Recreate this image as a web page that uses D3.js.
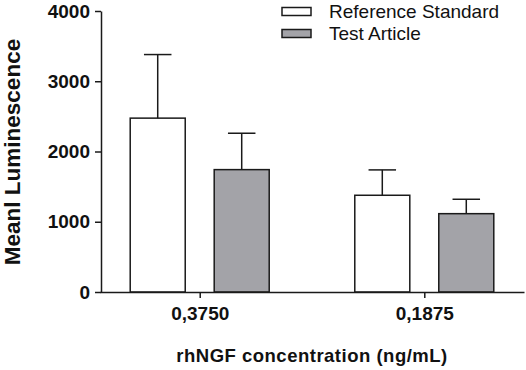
<!DOCTYPE html>
<html>
<head>
    <meta charset="UTF-8">
    <title></title>
    <style>
        body { margin: 0; background: #fff; }
        svg { font-family: "Liberation Sans", Arial, sans-serif; }
        .axis path, .axis line { stroke: #1a1a1a; stroke-width: 1.5; }
        .axis text { font-size: 19px; font-weight: bold; fill: #111; }
    </style>
</head>
<body>
<svg id="chart" width="526" height="370"></svg>
<script src="https://cdn.jsdelivr.net/npm/d3@7"></script>
<script>
    let categories = ["0,3750", "0,1875"];
    let series = ["Reference Standard", "Test Article"];
    let refMean = [2475, 1377];
    let refErr = [905, 361];
    let testMean = [1742, 1115];
    let testErr = [518, 205];
    let yTicks = [0, 1000, 2000, 3000, 4000];
    let colors = ["#ffffff", "#a3a3a8"];

    let rows = [];
    categories.forEach((c, i) => {
        rows.push({cat: c, s: series[0], mean: refMean[i], err: refErr[i]});
        rows.push({cat: c, s: series[1], mean: testMean[i], err: testErr[i]});
    });

    let svg = d3.select('#chart');

    let x = d3.scalePoint().domain(categories).range([100, 524]).padding(0.444);
    let x1 = d3.scaleBand().domain(series).range([-69.5, 69.5]).paddingInner(0.345);
    let y = d3.scaleLinear().domain([0, 4000]).range([292, 11]);
    let color = d3.scaleOrdinal().domain(series).range(colors);

    // bars
    svg.append("g").selectAll("rect")
        .data(rows)
        .enter().append("rect")
        .attr("x", d => x(d.cat) + x1(d.s))
        .attr("y", d => y(d.mean))
        .attr("width", x1.bandwidth())
        .attr("height", d => y(0) - y(d.mean))
        .attr("fill", d => color(d.s))
        .attr("stroke", "#1a1a1a")
        .attr("stroke-width", 1.5);

    // error bars (upper only)
    let capW = x1.bandwidth() / 2;
    let eb = svg.append("g").attr("stroke", "#1a1a1a").attr("stroke-width", 1.5);
    rows.forEach(d => {
        let cx = x(d.cat) + x1(d.s) + x1.bandwidth() / 2;
        eb.append("line")
            .attr("x1", cx).attr("x2", cx)
            .attr("y1", y(d.mean)).attr("y2", y(d.mean + d.err));
        eb.append("line")
            .attr("x1", cx - capW / 2).attr("x2", cx + capW / 2)
            .attr("y1", y(d.mean + d.err)).attr("y2", y(d.mean + d.err));
    });

    // axes
    svg.append("g")
        .attr("class", "axis")
        .attr("transform", "translate(101,0)")
        .call(d3.axisLeft(y).tickValues(yTicks).tickFormat(d3.format("d")).tickSize(6).tickSizeOuter(0).tickPadding(5));

    svg.append("g")
        .attr("class", "axis")
        .attr("transform", "translate(0,292)")
        .call(d3.axisBottom(x).tickSize(6).tickSizeOuter(0).tickPadding(9));

    // axis titles
    svg.append("text")
        .attr("transform", "translate(20,152) rotate(-90)")
        .attr("text-anchor", "middle")
        .style("font-size", "22.5px")
        .style("font-weight", "bold")
        .attr("fill", "#111")
        .text("Meanl Luminescence");

    svg.append("text")
        .attr("x", 312)
        .attr("y", 362)
        .attr("text-anchor", "middle")
        .style("font-size", "18.5px")
        .style("font-weight", "bold")
        .style("letter-spacing", "0.5px")
        .attr("fill", "#111")
        .text("rhNGF concentration (ng/mL)");

    // legend
    let legend = svg.append("g").selectAll("g")
        .data(series)
        .enter().append("g")
        .attr("transform", (d, i) => "translate(282," + (7.5 + i * 22) + ")");

    legend.append("rect")
        .attr("width", 29)
        .attr("height", 8)
        .attr("fill", d => color(d))
        .attr("stroke", "#1a1a1a")
        .attr("stroke-width", 1.5);

    legend.append("text")
        .attr("x", 47)
        .attr("y", 4)
        .attr("dy", "0.36em")
        .style("font-size", "19px")
        .attr("fill", "#111")
        .text(d => d);
</script>
</body>
</html>
